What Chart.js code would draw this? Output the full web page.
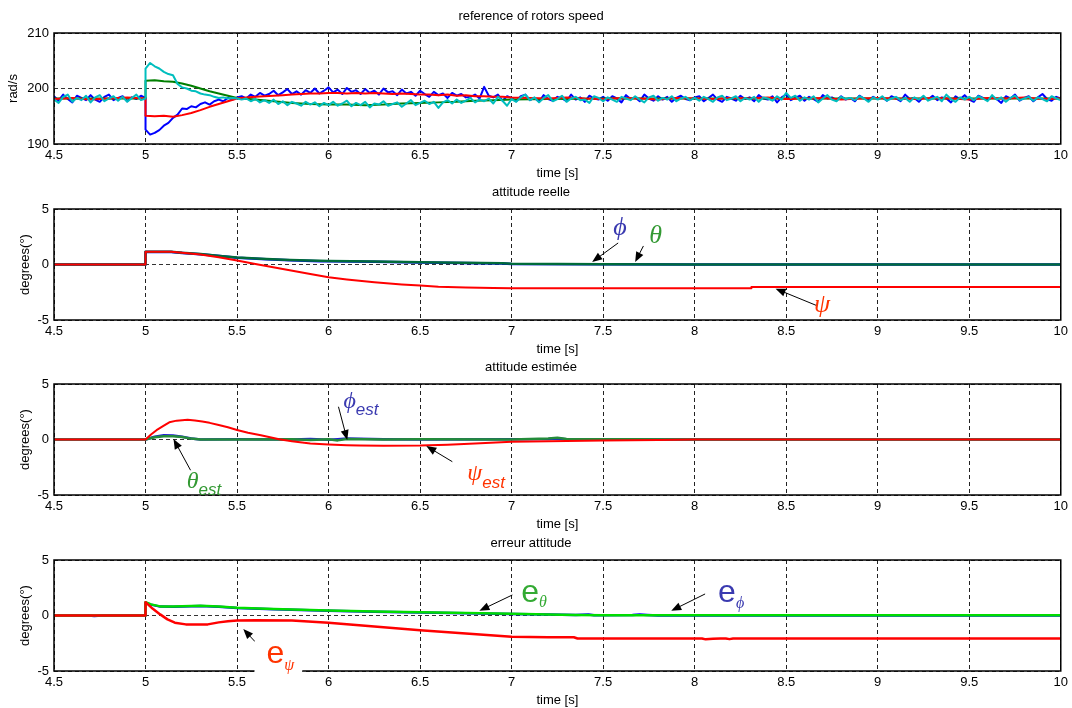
<!DOCTYPE html>
<html><head><meta charset="utf-8">
<script src="https://cdn.jsdelivr.net/npm/chart.js@4.4.0/dist/chart.umd.min.js"></script>
<style>
html,body{margin:0;padding:0;background:#fff;overflow:hidden}
#wrap{position:relative;width:1072px;height:708px;background:#fff}
canvas{position:absolute;left:0}
</style></head><body>
<div id="wrap">
<canvas id="c1" width="1072" height="182" style="top:0px"></canvas>
<canvas id="c2" width="1072" height="182" style="top:176px"></canvas>
<canvas id="c3" width="1072" height="182" style="top:351px"></canvas>
<canvas id="c4" width="1072" height="182" style="top:527px"></canvas>
</div>
<script>
// ---------- panel 1 : rotor speeds ----------
const tFine = [4.5,4.525,4.55,4.575,4.6,4.625,4.65,4.675,4.7,4.725,4.75,4.775,4.8,4.825,4.85,4.875,4.9,4.925,4.95,4.975,5,
5,5.025,5.05,5.075,5.1,5.125,5.15,5.175,5.2,5.225,5.25,5.275,5.3,5.325,5.35,5.375,5.4,5.425,5.45,5.475,5.5,
5.525,5.55,5.575,5.6,5.625,5.65,5.675,5.7,5.725,5.75,5.775,5.8,5.825,5.85,5.875,5.9,5.925,5.95,5.975,6,
6.025,6.05,6.075,6.1,6.125,6.15,6.175,6.2,6.225,6.25,6.275,6.3,6.325,6.35,6.375,6.4,6.425,6.45,6.475,6.5,
6.525,6.55,6.575,6.6,6.625,6.65,6.675,6.7,6.725,6.75,6.775,6.8,6.825,6.85,6.875,6.9,6.925,6.95,6.975,7,
7.025,7.05,7.075,7.1,7.125,7.15,7.175,7.2,7.225,7.25,7.275,7.3,7.325,7.35,7.375,7.4,7.425,7.45,7.475,7.5,
7.525,7.55,7.575,7.6,7.625,7.65,7.675,7.7,7.725,7.75,7.775,7.8,7.825,7.85,7.875,7.9,7.925,7.95,7.975,8,
8.025,8.05,8.075,8.1,8.125,8.15,8.175,8.2,8.225,8.25,8.275,8.3,8.325,8.35,8.375,8.4,8.425,8.45,8.475,8.5,
8.525,8.55,8.575,8.6,8.625,8.65,8.675,8.7,8.725,8.75,8.775,8.8,8.825,8.85,8.875,8.9,8.925,8.95,8.975,9,
9.025,9.05,9.075,9.1,9.125,9.15,9.175,9.2,9.225,9.25,9.275,9.3,9.325,9.35,9.375,9.4,9.425,9.45,9.475,9.5,
9.525,9.55,9.575,9.6,9.625,9.65,9.675,9.7,9.725,9.75,9.775,9.8,9.825,9.85,9.875,9.9,9.925,9.95,9.975,10];

const speedBlue = [198.6,197.8,198.9,198.1,197.5,198.7,198.3,197.9,198.8,198.0,197.6,198.5,198.9,197.9,198.3,198.6,197.7,198.4,198.1,198.7,198.3,
192.6,191.7,192.0,192.5,193.3,193.8,194.7,195.3,196.4,196.3,196.8,196.6,197.2,197.5,197.1,197.7,198.0,197.7,198.3,198.0,198.4,
198.6,198.2,198.9,198.5,199.2,198.7,199.0,199.6,198.8,199.3,199.9,199.0,199.5,198.9,199.7,199.2,200.0,199.1,199.6,200.2,
199.3,199.8,199.0,200.1,199.4,199.7,199.0,199.9,199.2,199.6,198.9,200.0,199.3,199.5,198.8,199.8,199.1,199.4,198.7,199.6,
199.0,198.5,199.4,198.8,199.1,198.3,199.2,198.7,199.0,198.4,198.5,198.9,198.2,200.3,198.7,198.4,198.9,197.8,198.6,198.3,
197.7,198.6,198.9,197.9,198.3,197.6,198.8,198.1,197.8,198.5,198.2,197.7,198.9,198.0,198.4,197.6,198.7,198.2,198.0,198.5,
197.8,198.6,198.2,197.5,198.8,198.1,198.4,197.7,198.9,198.2,197.8,198.6,198.0,198.5,197.6,198.3,198.7,198.1,197.9,198.4,
198.6,197.7,198.3,198.9,198.0,197.6,198.5,198.2,197.8,198.7,198.1,198.4,197.7,198.8,198.2,198.0,198.6,197.5,198.4,198.9,
197.9,198.3,198.7,197.8,198.5,198.1,197.6,198.8,198.2,198.4,197.9,198.6,198.0,198.3,197.7,198.7,198.2,197.9,198.5,198.1,
198.4,197.8,198.6,198.2,197.7,198.9,198.1,198.3,197.6,198.5,198.0,198.7,197.9,198.4,198.2,197.5,198.6,198.1,198.8,198.0,
197.6,198.7,198.3,197.9,198.5,198.1,197.4,198.6,198.2,198.9,197.8,198.3,198.6,197.7,198.4,199.0,198.1,197.8,198.5,198.2];

const speedCyan = [198.0,197.4,198.5,198.9,197.6,198.3,197.9,198.7,197.5,198.4,198.8,197.7,198.2,198.6,197.8,198.5,197.6,198.3,198.9,197.9,198.2,
203.6,204.6,204.0,203.6,203.0,202.6,202.4,200.8,200.2,200.0,199.6,199.5,199.1,198.9,198.8,198.5,198.3,198.4,198.2,198.3,198.2,
198.0,198.2,197.7,198.1,197.5,197.9,197.4,198.0,197.2,197.7,197.0,197.6,197.3,196.9,197.6,197.1,197.5,196.8,197.4,197.0,
197.6,196.9,197.3,197.8,196.8,197.4,197.0,197.6,196.6,197.3,197.1,197.7,196.9,197.2,197.5,196.7,197.3,197.9,197.0,197.4,
197.8,197.2,197.6,196.5,197.5,197.9,197.3,198.0,197.4,197.8,198.3,197.5,198.0,197.7,198.2,197.3,198.5,197.8,196.9,198.1,
197.6,198.4,198.9,197.9,198.4,197.5,198.3,198.8,197.7,198.1,198.7,197.6,198.2,198.5,197.9,198.0,197.4,198.6,198.3,197.7,
198.4,198.0,197.6,198.5,198.2,197.9,198.6,198.0,197.5,198.4,198.7,197.8,198.3,198.0,198.6,197.7,198.2,198.5,197.9,198.3,
197.8,198.5,198.1,197.6,198.4,198.7,197.9,198.2,198.6,197.7,198.3,198.0,198.5,197.6,198.4,198.2,197.8,198.6,198.0,199.2,
198.3,198.7,197.8,198.4,198.0,198.6,197.5,198.2,198.8,198.0,197.7,198.5,198.1,198.3,197.9,198.6,198.2,197.6,198.4,198.0,
198.6,197.8,198.2,198.5,197.9,198.3,197.6,198.4,198.0,198.7,197.8,198.2,198.5,197.7,198.9,198.1,197.6,198.4,198.0,198.5,
197.9,198.6,198.2,197.7,198.8,198.0,198.4,197.6,198.3,198.7,197.9,198.2,198.5,197.8,198.4,198.1,197.7,198.6,198.2,197.9];

const tGreen = [4.5,4.75,5,5,5.05,5.1,5.15,5.2,5.25,5.3,5.35,5.4,5.45,5.5,5.6,5.7,5.8,5.9,6,6.1,6.2,6.3,6.4,6.5,6.6,6.7,6.8,6.9,7,7.2,7.5,8,8.5,9,9.5,10];
const speedGreen = [198.2,198.2,198.2,201.4,201.5,201.3,201.2,200.9,200.5,200.0,199.5,199.1,198.7,198.3,198.0,197.7,197.4,197.2,197.1,197.1,197.0,197.1,197.3,197.4,197.5,197.6,197.8,197.9,198.0,198.1,198.2,198.2,198.2,198.2,198.2,198.2];

const tRed = [4.5,4.6,4.7,4.8,4.9,5,5,5.05,5.1,5.15,5.2,5.25,5.3,5.35,5.4,5.45,5.5,5.55,5.6,5.65,5.7,5.75,5.8,5.85,5.9,5.95,6,
6.05,6.1,6.15,6.2,6.25,6.3,6.35,6.4,6.45,6.5,6.55,6.6,6.65,6.7,6.75,6.8,6.85,6.9,6.95,7,
7.1,7.2,7.3,7.4,7.5,7.6,7.7,7.8,7.9,8,8.1,8.2,8.3,8.4,8.5,8.6,8.7,8.8,8.9,9,9.1,9.2,9.3,9.4,9.5,9.6,9.7,9.8,9.9,10];
const speedRed = [198.1,198.3,198.0,198.2,198.4,198.2,195.1,
195.0,195.1,194.9,195.2,195.6,196.1,196.7,197.2,197.7,198.2,
198.4,198.5,198.6,198.7,198.8,198.9,199.0,199.1,199.1,199.2,
199.2,199.1,199.2,199.1,199.2,199.1,199.0,199.1,199.0,198.9,
198.9,198.8,198.9,198.7,198.8,198.6,198.6,198.5,198.5,198.4,
198.3,198.2,198.4,198.2,198.1,198.3,198.2,198.0,198.3,198.2,198.1,198.3,198.2,198.4,198.1,198.2,198.3,198.0,198.2,198.3,198.2,198.1,198.3,198.2,198.0,198.3,198.2,198.4,198.1,198.2];

// ---------- panel 2 : attitude reelle ----------
const tTheta = [4.5,5,5,5.14,5.2,5.3,5.42,5.5,5.66,5.79,5.95,6,6.25,6.5,6.95,7,7.5,8,10];
const theta  = [0,0,1.15,1.15,1.05,0.95,0.75,0.62,0.5,0.4,0.33,0.32,0.27,0.2,0.12,0.06,0.02,0,0];
const phi    = [0,0,1.12,1.12,1.04,0.93,0.74,0.6,0.48,0.38,0.3,0.3,0.25,0.19,0.1,0.05,0.02,0,0];
const tPsi = [4.5,5,5,5.14,5.2,5.3,5.4,5.5,5.6,5.75,5.9,6,6.1,6.25,6.4,6.5,6.6,6.75,6.9,7,8.31,8.31,10];
const psi  = [0,0,1.15,1.15,1.05,0.9,0.65,0.36,0.05,-0.4,-0.85,-1.15,-1.35,-1.6,-1.8,-1.9,-2.0,-2.08,-2.12,-2.13,-2.13,-2.03,-2.03];

// ---------- panel 3 : attitude estimee ----------
const tPsiEst = [4.5,5,5.03,5.06,5.1,5.13,5.17,5.2,5.23,5.27,5.31,5.35,5.4,5.45,5.5,5.56,5.63,5.68,5.73,5.8,5.9,6,6.1,6.17,6.3,6.5,6.65,6.8,7,7.2,7.5,7.8,8,10];
const psiEst  = [0,0,0.45,0.84,1.25,1.55,1.7,1.74,1.77,1.72,1.62,1.5,1.3,1.1,0.85,0.6,0.38,0.2,0.02,-0.15,-0.35,-0.45,-0.52,-0.55,-0.56,-0.55,-0.47,-0.35,-0.2,-0.15,-0.1,-0.05,0,0];
const tAngEst = [4.5,5,5.05,5.1,5.15,5.2,5.25,5.3,5.5,5.8,5.9,6,6.05,6.1,6.3,6.5,7,7.2,7.25,7.3,8,10];
const thetaEst = [0,0,0.2,0.3,0.3,0.22,0.08,0,0,0.03,-0.05,0.02,-0.08,0.05,0,0.03,0,0.1,0.15,0.05,0,0];
const phiEst   = [0,0,0.25,0.38,0.35,0.25,0.1,0,0.02,0,0.05,-0.03,0.03,0.08,0.02,0,0.03,0.05,0.08,0.02,0,0];

// ---------- panel 4 : erreur attitude ----------
const tETheta = [4.5,5,5,5.03,5.08,5.15,5.25,5.3,5.4,5.5,5.7,6,6.25,6.5,6.75,7,7.2,7.35,7.5,10];
const eTheta  = [0,0,1.2,1.0,0.82,0.8,0.85,0.87,0.8,0.7,0.58,0.45,0.36,0.3,0.22,0.15,0.1,0.05,0.02,0.02];
const tEPhi = [4.5,4.69,4.72,4.76,5,5,5.03,5.08,5.15,5.25,5.3,5.4,5.5,5.7,6,6.25,6.5,6.75,7,7.2,7.35,7.42,7.45,7.66,7.7,7.74,7.8,10];
const ePhi  = [0,0,-0.05,0,0,1.15,0.98,0.8,0.78,0.83,0.85,0.78,0.68,0.56,0.43,0.34,0.28,0.2,0.13,0.08,0.04,0.08,0.02,0.05,0.08,0.04,0,0];
const tEPsi = [4.5,5,5,5.04,5.08,5.12,5.16,5.22,5.3,5.34,5.4,5.45,5.5,5.6,5.8,6,6.25,6.5,6.75,7,7.2,7.34,7.36,8.04,8.06,8.1,8.14,8.17,8.19,8.21,10];
const ePsi  = [0,0,1.2,0.6,0.1,-0.35,-0.65,-0.8,-0.82,-0.8,-0.62,-0.52,-0.45,-0.42,-0.45,-0.66,-1.0,-1.32,-1.62,-1.92,-1.95,-1.96,-2.07,-2.07,-2.15,-2.1,-2.07,-2.07,-2.13,-2.07,-2.07];

// ---------- axis ticks ----------
const xTicks = [4.5,5,5.5,6,6.5,7,7.5,8,8.5,9,9.5,10];
const xTickLabels = ['4.5','5','5.5','6','6.5','7','7.5','8','8.5','9','9.5','10'];
const speedTicks = [190, 200, 210];
const degTicks = [-5, 0, 5];

// ---------- rendering ----------
const FONT = "'Liberation Sans', Arial, Helvetica, sans-serif";
const SERIF = "'Liberation Serif', 'DejaVu Serif', 'Times New Roman', serif";

function pts(t, v) { return t.map((x, i) => ({x: x, y: v[i]})); }
function ds(t, v, color, w) {
  return {data: pts(t, v), borderColor: color, backgroundColor: color, borderWidth: w || 2,
          pointRadius: 0, fill: false, tension: 0, borderJoinStyle: 'round', borderCapStyle: 'round'};
}

function drawArrow(ctx, x1, y1, x2, y2) {
  const a = Math.atan2(y2 - y1, x2 - x1), L = 10, W = 4;
  ctx.save();
  ctx.strokeStyle = '#000'; ctx.fillStyle = '#000'; ctx.lineWidth = 1;
  ctx.beginPath(); ctx.moveTo(x1, y1);
  ctx.lineTo(x2 - L * 0.8 * Math.cos(a), y2 - L * 0.8 * Math.sin(a)); ctx.stroke();
  ctx.beginPath(); ctx.moveTo(x2, y2);
  ctx.lineTo(x2 - L * Math.cos(a) + W * Math.sin(a), y2 - L * Math.sin(a) - W * Math.cos(a));
  ctx.lineTo(x2 - L * Math.cos(a) - W * Math.sin(a), y2 - L * Math.sin(a) + W * Math.cos(a));
  ctx.closePath(); ctx.fill();
  ctx.restore();
}

const annotPlugin = {
  id: 'annot',
  afterDraw(chart, args, opts) {
    const {ctx, chartArea: ca} = chart;
    const xs = chart.scales.x, ys = chart.scales.y;
    ctx.save();
    ctx.strokeStyle = '#000'; ctx.lineWidth = 1.5;
    ctx.strokeRect(ca.left, ca.top, ca.right - ca.left, ca.bottom - ca.top);
    ctx.restore();
    (opts.arrows || []).forEach(a => drawArrow(ctx, xs.getPixelForValue(a[0]), ys.getPixelForValue(a[1]),
                                                    xs.getPixelForValue(a[2]), ys.getPixelForValue(a[3])));
    (opts.labels || []).forEach(l => {
      const x = xs.getPixelForValue(l.t), y = ys.getPixelForValue(l.v);
      ctx.save();
      ctx.textAlign = 'left'; ctx.textBaseline = 'alphabetic';
      ctx.font = l.mf;
      const mw = ctx.measureText(l.main).width;
      let sw = 0;
      if (l.sub) { ctx.font = l.sf; sw = ctx.measureText(l.sub).width; }
      if (l.bg) {
        ctx.fillStyle = '#fff';
        ctx.fillRect(x - 12, y - 22, mw + sw + 20, 37);
      }
      ctx.fillStyle = l.color;
      ctx.font = l.mf; ctx.fillText(l.main, x, y);
      if (l.sub) { ctx.font = l.sf; ctx.fillText(l.sub, x + mw, y + l.dy); }
      ctx.restore();
    });
  }
};

function makeChart(id, title, yTitle, yTitlePad, yTicks, datasets, annot) {
  return new Chart(document.getElementById(id), {
    type: 'line',
    data: {datasets: datasets},
    options: {
      responsive: false, animation: false, devicePixelRatio: 1,
      layout: {padding: {left: 0, right: 10, top: 0, bottom: 0}},
      plugins: {
        legend: {display: false}, tooltip: {enabled: false},
        title: {display: true, text: title, color: '#000',
                font: {family: FONT, size: 13, weight: 'normal', lineHeight: 1.2},
                padding: {top: 9, bottom: 8.4}},
        annot: annot
      },
      scales: {
        x: {type: 'linear', min: xTicks[0], max: xTicks[xTicks.length - 1],
            afterFit: s => { s.height = 38; },
            afterBuildTicks: s => { s.ticks = xTicks.map(v => ({value: v})); },
            ticks: {color: '#000', font: {family: FONT, size: 13}, padding: 4,
                    maxRotation: 0, autoSkip: false,
                    callback: (v, i) => xTickLabels[i]},
            grid: {color: '#222', lineWidth: 1, drawTicks: false},
            border: {display: false, dash: [4, 3]},
            title: {display: true, text: 'time [s]', color: '#000', font: {family: FONT, size: 13},
                    padding: {top: 0, bottom: 1}}},
        y: {type: 'linear', min: yTicks[0], max: yTicks[yTicks.length - 1],
            afterFit: s => { s.width = 54; },
            afterBuildTicks: s => { s.ticks = yTicks.map(v => ({value: v})); },
            ticks: {color: '#000', font: {family: FONT, size: 13}, padding: 5},
            grid: {color: '#333', lineWidth: 1, drawTicks: false},
            border: {display: false, dash: [4, 3]},
            title: {display: true, text: yTitle, color: '#000', font: {family: FONT, size: 13},
                    padding: {top: yTitlePad, bottom: 0}}}
      }
    },
    plugins: [annotPlugin]
  });
}

// panel 1
makeChart('c1', 'reference of rotors speed', 'rad/s', 6, speedTicks, [
  ds(tFine, speedCyan, '#00BEBE', 2),
  ds(tRed, speedRed, '#FF0000', 2),
  ds(tGreen, speedGreen, '#007F00', 2),
  ds(tFine, speedBlue, '#0000FF', 2)
], {});

// panel 2
const greekBig = 'italic 26px ' + SERIF;
makeChart('c2', 'attitude reelle', 'degrees(°)', 18, degTicks, [
  ds(tPsi, psi, '#FF0000', 2),
  ds(tTheta, theta, '#006B3A', 2.5),
  ds(tTheta, phi, '#0000FF', 2.5)
], {
  labels: [
    {t: 7.555, v: 2.66, main: 'ϕ', color: '#3A3AB0', mf: greekBig},
    {t: 7.752, v: 1.94, main: 'θ', color: '#339933', mf: greekBig},
    {t: 8.652, v: -4.28, main: 'ψ', color: '#FF3300', mf: greekBig}
  ],
  arrows: [[7.582, 1.94, 7.44, 0.23], [7.72, 1.67, 7.675, 0.23], [8.668, -3.71, 8.442, -2.18]]
});

// panel 3
const greekMid = 'italic 24px ' + SERIF;
const estFont = 'italic 17px ' + FONT;
makeChart('c3', 'attitude estimée', 'degrees(°)', 18, degTicks, [
  ds(tPsiEst, psiEst, '#FF0000', 2),
  ds(tAngEst, thetaEst, '#238B3A', 2.5),
  ds(tAngEst, phiEst, '#2020D0', 2.5)
], {
  labels: [
    {t: 6.081, v: 2.84, main: 'ϕ', sub: 'est', color: '#3A3AB0', mf: greekMid, sf: estFont, dy: 7},
    {t: 5.225, v: -4.37, main: 'θ', sub: 'est', color: '#339933', mf: greekMid, sf: estFont, dy: 7},
    {t: 6.758, v: -3.65, main: 'ψ', sub: 'est', color: '#FF3300', mf: greekMid, sf: estFont, dy: 8}
  ],
  arrows: [[6.054, 2.95, 6.102, -0.05], [5.246, -2.77, 5.153, 0.05], [6.676, -2.0, 6.534, -0.59]]
});

// panel 4
const eFont = '32px ' + FONT;
const subGreek = 'italic 16px ' + SERIF;
makeChart('c4', 'erreur attitude', 'degrees(°)', 18, degTicks, [
  ds(tEPsi, ePsi, '#FF0000', 2.5),
  ds(tETheta, eTheta, '#00DD00', 2.5),
  ds(tEPhi, ePhi, '#0000FF', 2.5)
], {
  labels: [
    {t: 7.053, v: 1.22, main: 'e', sub: 'θ', color: '#33AA33', mf: eFont, sf: subGreek, dy: 5},
    {t: 8.128, v: 1.22, main: 'e', sub: 'ϕ', color: '#3A3AB0', mf: eFont, sf: subGreek, dy: 6},
    {t: 5.661, v: -4.28, main: 'e', sub: 'ψ', color: '#FF3300', mf: eFont, sf: subGreek, dy: 7, bg: true}
  ],
  arrows: [[7.004, 1.85, 6.824, 0.43], [8.057, 1.94, 7.872, 0.43], [5.624, -2.81, 5.534, -1.22]]
});
</script>
</body></html>
